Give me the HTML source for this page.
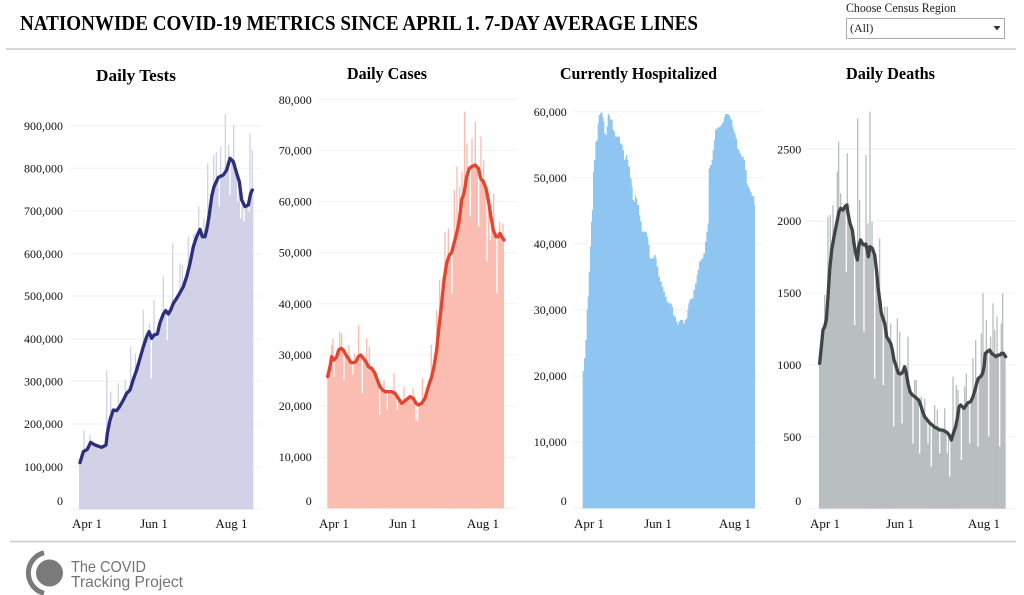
<!DOCTYPE html>
<html><head><meta charset="utf-8"><style>
html,body{margin:0;padding:0;background:#fff;}
svg{display:block;}
</style></head><body>
<svg width="1024" height="595" viewBox="0 0 1024 595" xmlns="http://www.w3.org/2000/svg">
<rect width="1024" height="595" fill="#fff"/>
<!-- Header -->
<text x="20" y="30" font-family="Liberation Serif, serif" font-weight="bold" font-size="21" textLength="678" lengthAdjust="spacingAndGlyphs" fill="#000">NATIONWIDE COVID-19 METRICS SINCE APRIL 1. 7-DAY AVERAGE LINES</text>
<text x="846" y="12" font-family="Liberation Serif, serif" font-size="12.5" textLength="110" lengthAdjust="spacingAndGlyphs" fill="#222">Choose Census Region</text>
<rect x="846.5" y="18.5" width="158" height="20" fill="#fff" stroke="#a9a9a9" stroke-width="1"/>
<text x="850" y="32" font-family="Liberation Serif, serif" font-size="12" fill="#222">(All)</text>
<polygon points="993.5,26 1000.5,26 997,30.5" fill="#333"/>
<line x1="6" y1="49" x2="1016" y2="49" stroke="#c9c9c9" stroke-width="1.5"/>

<!-- Chart titles -->
<g font-family="Liberation Serif, serif" font-weight="bold" font-size="16.5" fill="#000">
<text x="96" y="81" textLength="80" lengthAdjust="spacingAndGlyphs">Daily Tests</text>
<text x="347" y="79" textLength="80" lengthAdjust="spacingAndGlyphs">Daily Cases</text>
<text x="560" y="79" textLength="157" lengthAdjust="spacingAndGlyphs">Currently Hospitalized</text>
<text x="846" y="79" textLength="89" lengthAdjust="spacingAndGlyphs">Daily Deaths</text>
</g>

<!-- Gridlines -->
<g stroke="#f0f0f0" stroke-width="1">
<line x1="70" x2="262" y1="125.7" y2="125.7"/><line x1="70" x2="262" y1="168.3" y2="168.3"/><line x1="70" x2="262" y1="211" y2="211"/><line x1="70" x2="262" y1="253.7" y2="253.7"/><line x1="70" x2="262" y1="296" y2="296"/><line x1="70" x2="262" y1="338.7" y2="338.7"/><line x1="70" x2="262" y1="381.3" y2="381.3"/><line x1="70" x2="262" y1="424" y2="424"/><line x1="70" x2="262" y1="466.7" y2="466.7"/><line x1="70" x2="262" y1="509.3" y2="509.3"/>
<line x1="318" x2="517" y1="99.3" y2="99.3"/><line x1="318" x2="517" y1="150.4" y2="150.4"/><line x1="318" x2="517" y1="201.5" y2="201.5"/><line x1="318" x2="517" y1="252.7" y2="252.7"/><line x1="318" x2="517" y1="303.8" y2="303.8"/><line x1="318" x2="517" y1="354.9" y2="354.9"/><line x1="318" x2="517" y1="406.1" y2="406.1"/><line x1="318" x2="517" y1="457.2" y2="457.2"/><line x1="318" x2="517" y1="508.3" y2="508.3"/>
<line x1="573" x2="763" y1="111.7" y2="111.7"/><line x1="573" x2="763" y1="177.8" y2="177.8"/><line x1="573" x2="763" y1="243.9" y2="243.9"/><line x1="573" x2="763" y1="310" y2="310"/><line x1="573" x2="763" y1="376.1" y2="376.1"/><line x1="573" x2="763" y1="442.2" y2="442.2"/><line x1="573" x2="763" y1="508.3" y2="508.3"/>
<line x1="807" x2="1016" y1="149.3" y2="149.3"/><line x1="807" x2="1016" y1="221.2" y2="221.2"/><line x1="807" x2="1016" y1="293.1" y2="293.1"/><line x1="807" x2="1016" y1="364.9" y2="364.9"/><line x1="807" x2="1016" y1="436.8" y2="436.8"/><line x1="807" x2="1016" y1="508.7" y2="508.7"/>
</g>

<!-- Y labels -->
<g font-family="Liberation Serif, serif" font-size="12" fill="#111" text-anchor="end">
<text x="63" y="130">900,000</text><text x="63" y="172.5">800,000</text><text x="63" y="215">700,000</text><text x="63" y="258">600,000</text><text x="63" y="300">500,000</text><text x="63" y="343">400,000</text><text x="63" y="385.5">300,000</text><text x="63" y="428">200,000</text><text x="63" y="471">100,000</text><text x="63" y="505">0</text>
<text x="311.7" y="104">80,000</text><text x="311.7" y="154.5">70,000</text><text x="311.7" y="205.5">60,000</text><text x="311.7" y="256.7">50,000</text><text x="311.7" y="307.8">40,000</text><text x="311.7" y="359">30,000</text><text x="311.7" y="410">20,000</text><text x="311.7" y="461">10,000</text><text x="311.7" y="505">0</text>
<text x="566.7" y="116">60,000</text><text x="566.7" y="182">50,000</text><text x="566.7" y="248">40,000</text><text x="566.7" y="314">30,000</text><text x="566.7" y="380">20,000</text><text x="566.7" y="446">10,000</text><text x="566.7" y="505">0</text>
<text x="801.3" y="153.3">2500</text><text x="801.3" y="225.2">2000</text><text x="801.3" y="297">1500</text><text x="801.3" y="369">1000</text><text x="801.3" y="441">500</text><text x="801.3" y="505">0</text>
</g>

<!-- X labels -->
<g font-family="Liberation Serif, serif" font-size="13" fill="#111">
<text x="72" y="528">Apr 1</text><text x="154" y="528" text-anchor="middle">Jun 1</text><text x="231.5" y="528" text-anchor="middle">Aug 1</text>
<text x="319" y="528">Apr 1</text><text x="403" y="528" text-anchor="middle">Jun 1</text><text x="483" y="528" text-anchor="middle">Aug 1</text>
<text x="574" y="528">Apr 1</text><text x="658" y="528" text-anchor="middle">Jun 1</text><text x="735" y="528" text-anchor="middle">Aug 1</text>
<text x="810" y="528">Apr 1</text><text x="900" y="528" text-anchor="middle">Jun 1</text><text x="984" y="528" text-anchor="middle">Aug 1</text>
</g>

<!-- Chart 1: Daily Tests -->
<g transform="translate(0,90) scale(0.333333)">
<path fill="#d1d2e7" d="M237,1258 L237,1118 240,1118 250,1085 262,1078 272,1057 285,1065 305,1072 318,1065 322,1030 330,990 340,960 350,962 360,948 370,930 380,910 390,900 400,868 410,840 420,805 430,770 440,740 447,725 455,745 462,735 472,732 480,698 490,672 497,662 505,672 512,660 520,640 530,625 540,608 550,590 560,560 570,520 580,470 590,440 600,418 607,440 615,440 620,420 627,380 635,320 642,290 655,262 670,255 680,240 690,205 700,215 710,250 718,275 725,330 735,350 745,345 752,310 757,300 760,300 760,1258 Z"/>
<path fill="#d1d2e7" d="M250,1258V1022h4V1258Z M268,1258V1035h4V1258Z M318,1258V842h4V1258Z M330,1258V905h4V1258Z M353,1258V880h4V1258Z M374,1258V870h4V1258Z M390,1258V770h4V1258Z M404,1258V790h4V1258Z M428,1258V660h4V1258Z M446,1258V700h4V1258Z M460,1258V630h4V1258Z M488,1258V560h4V1258Z M516,1258V460h4V1258Z M538,1258V520h4V1258Z M545,1258V525h4V1258Z M563,1258V440h4V1258Z M580,1258V430h4V1258Z M594,1258V350h4V1258Z M610,1258V385h4V1258Z M621,1258V220h4V1258Z M639,1258V195h4V1258Z M647,1258V185h4V1258Z M660,1258V170h4V1258Z M674,1258V72h4V1258Z M684,1258V165h4V1258Z M699,1258V105h4V1258Z M748,1258V130h4V1258Z M755,1258V180h4V1258Z"/>
<path fill="#fff" d="M452,725V865h4V725Z M500,655V750h4V655Z M656,255V350h4V255Z M688,200V315h4V200Z M711,245V335h4V245Z M720,270V385h4V270Z M730,330V395h4V330Z M745,340V365h4V340Z"/>
<polyline fill="none" stroke="#2d2f7a" stroke-width="10" stroke-linejoin="round" stroke-linecap="round" points="240,1118 250,1085 262,1078 272,1057 285,1065 305,1072 318,1065 322,1030 330,990 340,960 350,962 360,948 370,930 380,910 390,900 400,868 410,840 420,805 430,770 440,740 447,725 455,745 462,735 472,732 480,698 490,672 497,662 505,672 512,660 520,640 530,625 540,608 550,590 560,560 570,520 580,470 590,440 600,418 607,440 615,440 620,420 627,380 635,320 642,290 655,262 670,255 680,240 690,205 700,215 710,250 718,275 725,330 735,350 745,345 752,310 757,300"/>
</g>

<!-- Chart 2: Daily Cases -->
<g transform="translate(260,90) scale(0.333333)">
<path fill="#fbbcb2" d="M202,1255 L202,860 210,830 215,800 222,810 230,800 236,780 243,775 250,780 258,795 265,805 272,817 280,818 288,815 295,800 302,795 310,805 318,815 325,830 335,835 345,850 352,870 360,890 368,900 375,905 385,905 395,905 405,910 415,925 425,940 432,935 440,928 450,920 460,925 468,940 475,945 485,940 495,925 505,890 515,860 522,830 530,780 537,710 545,640 552,570 560,520 568,495 575,488 582,460 590,430 598,390 605,330 612,310 620,260 628,235 635,230 645,225 655,235 662,265 670,275 678,295 685,330 692,375 700,420 708,440 715,440 720,430 725,440 732,450 L732,1255 Z"/>
<path fill="#fbbcb2" d="M213,1255V765h4V1255Z M217,1255V745h4V1255Z M237,1255V725h4V1255Z M243,1255V730h4V1255Z M265,1255V765h4V1255Z M282,1255V790h4V1255Z M294,1255V705h4V1255Z M318,1255V745h4V1255Z M326,1255V770h4V1255Z M345,1255V860h4V1255Z M370,1255V870h4V1255Z M400,1255V850h4V1255Z M430,1255V890h4V1255Z M457,1255V895h4V1255Z M485,1255V865h4V1255Z M512,1255V765h4V1255Z M528,1255V660h4V1255Z M537,1255V570h4V1255Z M553,1255V425h4V1255Z M563,1255V415h4V1255Z M581,1255V300h4V1255Z M589,1255V230h4V1255Z M597,1255V290h4V1255Z M604,1255V245h4V1255Z M612,1255V65h4V1255Z M619,1255V160h4V1255Z M634,1255V145h4V1255Z M644,1255V95h4V1255Z M661,1255V140h4V1255Z M669,1255V210h4V1255Z M699,1255V310h4V1255Z M717,1255V395h4V1255Z M727,1255V400h4V1255Z"/>
<path fill="#fff" d="M220,800V860h4V800Z M250,775V870h4V775Z M277,815V855h4V815Z M305,795V910h4V795Z M357,885V975h4V885Z M380,905V960h4V905Z M410,908V960h4V908Z M466,925V990h4V925Z M471,925V995h4V925Z M574,485V610h4V485Z M629,232V380h4V232Z M654,225V410h4V225Z M679,295V515h4V295Z M689,340V450h4V340Z M709,440V610h4V440Z"/>
<polyline fill="none" stroke="#e2462f" stroke-width="10" stroke-linejoin="round" stroke-linecap="round" points="203,860 210,830 215,800 222,810 230,800 236,780 243,775 250,780 258,795 265,805 272,817 280,818 288,815 295,800 302,795 310,805 318,815 325,830 335,835 345,850 352,870 360,890 368,900 375,905 385,905 395,905 405,910 415,925 425,940 432,935 440,928 450,920 460,925 468,940 475,945 485,940 495,925 505,890 515,860 522,830 530,780 537,710 545,640 552,570 560,520 568,495 575,488 582,460 590,430 598,390 605,330 612,310 620,260 628,235 635,230 645,225 655,235 662,265 670,275 678,295 685,330 692,375 700,420 708,440 715,440 720,430 725,440 732,450"/>
</g>

<!-- Chart 3: Currently Hospitalized -->
<g transform="translate(515,90) scale(0.333333)">
<path fill="#8ec6f1" d="M203,1255 V843 H207 V805 H211 V750 H215 V660 H218 V620 H221 V545 H225 V470 H228 V395 H231 V360 H234 V245 H237 V210 H241 V155 H245 V150 H248 V100 H251 V75 H255 V70 H258 V67 H262 V80 H265 V95 H268 V130 H272 V135 H275 V110 H278 V72 H282 V78 H285 V88 H290 V90 H293 V120 H297 V125 H300 V140 H315 V160 H320 V165 H323 V180 H327 V210 H330 V205 H333 V195 H337 V210 H340 V230 H345 V265 H350 V290 H353 V330 H357 V335 H360 V315 H363 V325 H367 V345 H372 V375 H376 V395 H380 V425 H392 V428 H396 V440 H400 V465 H404 V505 H410 V505 H415 V500 H418 V495 H422 V505 H425 V530 H430 V560 H435 V575 H440 V590 H445 V605 H450 V620 H455 V635 H460 V640 H470 V650 H474 V675 H478 V680 H483 V695 H487 V705 H490 V695 H495 V690 H505 V700 H510 V690 H513 V685 H517 V660 H520 V640 H523 V630 H527 V625 H535 V600 H540 V580 H545 V555 H548 V540 H552 V515 H556 V510 H560 V505 H565 V490 H570 V455 H574 V425 H578 V400 H581 V235 H585 V225 H590 V210 H593 V180 H597 V150 H600 V120 H604 V115 H608 V112 H613 V110 H617 V105 H620 V100 H624 V95 H627 V80 H630 V72 H640 V75 H645 V85 H648 V90 H652 V110 H655 V120 H658 V130 H662 V145 H666 V175 H670 V180 H674 V190 H678 V200 H686 V210 H690 V240 H695 V280 H698 V290 H702 V295 H705 V305 H710 V318 H715 V320 H718 V345 H720 V1255 Z"/>
</g>

<!-- Chart 4: Daily Deaths -->
<g transform="translate(764,90) scale(0.333333)">
<path fill="#b9bfbf" d="M165,1256 L165,820 172,770 177,720 182,710 187,690 192,620 197,540 203,480 210,440 218,400 225,365 230,355 237,360 243,350 248,345 252,370 258,400 265,420 270,460 275,490 280,510 284,470 290,450 295,460 300,465 305,462 310,480 313,500 318,470 325,475 332,495 338,545 342,590 347,630 352,670 357,685 362,700 368,740 374,750 380,760 385,780 390,810 397,830 403,850 410,852 417,845 422,830 427,850 432,880 438,905 445,915 452,920 458,925 464,930 470,945 476,965 482,980 490,990 498,1000 505,1005 512,1012 520,1015 527,1020 535,1020 545,1025 552,1030 558,1040 562,1050 568,1030 575,1010 580,985 585,950 590,945 595,950 600,955 607,945 612,938 620,935 627,920 633,900 638,880 643,865 650,860 656,850 660,830 664,790 670,785 677,780 683,790 690,795 696,800 703,795 708,795 713,790 718,790 725,800 L725,1256 Z"/>
<path fill="#b9bfbf" d="M180,1256V615h4V1256Z M190,1256V380h4V1256Z M197,1256V375h4V1256Z M205,1256V345h4V1256Z M218,1256V245h4V1256Z M222,1256V155h4V1256Z M228,1256V310h4V1256Z M236,1256V380h4V1256Z M248,1256V190h4V1256Z M252,1256V340h4V1256Z M263,1256V420h4V1256Z M279,1256V85h4V1256Z M285,1256V330h4V1256Z M304,1256V195h4V1256Z M310,1256V400h4V1256Z M316,1256V65h4V1256Z M322,1256V395h4V1256Z M345,1256V445h4V1256Z M350,1256V630h4V1256Z M360,1256V650h4V1256Z M368,1256V650h4V1256Z M378,1256V700h4V1256Z M398,1256V685h4V1256Z M405,1256V725h4V1256Z M420,1256V860h4V1256Z M430,1256V740h4V1256Z M450,1256V870h4V1256Z M455,1256V870h4V1256Z M470,1256V920h4V1256Z M480,1256V925h4V1256Z M510,1256V945h4V1256Z M518,1256V960h4V1256Z M540,1256V955h4V1256Z M565,1256V860h4V1256Z M575,1256V885h4V1256Z M580,1256V900h4V1256Z M600,1256V890h4V1256Z M605,1256V850h4V1256Z M625,1256V805h4V1256Z M633,1256V750h4V1256Z M650,1256V730h4V1256Z M655,1256V610h4V1256Z M665,1256V690h4V1256Z M678,1256V740h4V1256Z M685,1256V640h4V1256Z M690,1256V720h4V1256Z M697,1256V680h4V1256Z M710,1256V700h4V1256Z M714,1256V610h4V1256Z M720,1256V790h4V1256Z"/>
<path fill="#fff" d="M245,350V545h4V350Z M270,460V705h4V460Z M298,465V725h4V465Z M330,480V865h4V480Z M356,680V885h4V680Z M387,780V1010h4V780Z M412,850V1000h4V850Z M445,915V1060h4V915Z M465,930V1090h4V930Z M490,990V1060h4V990Z M500,1000V1130h4V1000Z M525,1018V1090h4V1018Z M548,1025V1090h4V1025Z M555,1035V1160h4V1035Z M590,945V1110h4V945Z M615,935V1060h4V935Z M640,865V1070h4V865Z M672,785V1040h4V785Z M705,795V1070h4V795Z"/>
<polyline fill="none" stroke="#3f4447" stroke-width="10" stroke-linejoin="round" stroke-linecap="round" points="167,820 172,770 177,720 182,710 187,690 192,620 197,540 203,480 210,440 218,400 225,365 230,355 237,360 243,350 248,345 252,370 258,400 265,420 270,460 275,490 280,510 284,470 290,450 295,460 300,465 305,462 310,480 313,500 318,470 325,475 332,495 338,545 342,590 347,630 352,670 357,685 362,700 368,740 374,750 380,760 385,780 390,810 397,830 403,850 410,852 417,845 422,830 427,850 432,880 438,905 445,915 452,920 458,925 464,930 470,945 476,965 482,980 490,990 498,1000 505,1005 512,1012 520,1015 527,1020 535,1020 545,1025 552,1030 558,1040 562,1050 568,1030 575,1010 580,985 585,950 590,945 595,950 600,955 607,945 612,938 620,935 627,920 633,900 638,880 643,865 650,860 656,850 660,830 664,790 670,785 677,780 683,790 690,795 696,800 703,795 708,795 713,790 718,790 725,800"/>
</g>

<!-- Footer -->
<line x1="10" y1="541.5" x2="1016" y2="541.5" stroke="#c9c9c9" stroke-width="1.5"/>
<circle cx="49.5" cy="573" r="13.5" fill="#7a7a7a"/>
<path d="M44 552.7 A21 21 0 0 0 44 593.3" fill="none" stroke="#7a7a7a" stroke-width="5"/>
<g font-family="Liberation Sans, sans-serif" font-size="16" fill="#737373">
<text x="71" y="572" textLength="75" lengthAdjust="spacingAndGlyphs">The COVID</text>
<text x="71" y="587" textLength="112" lengthAdjust="spacingAndGlyphs">Tracking Project</text>
</g>
</svg>
</body></html>
